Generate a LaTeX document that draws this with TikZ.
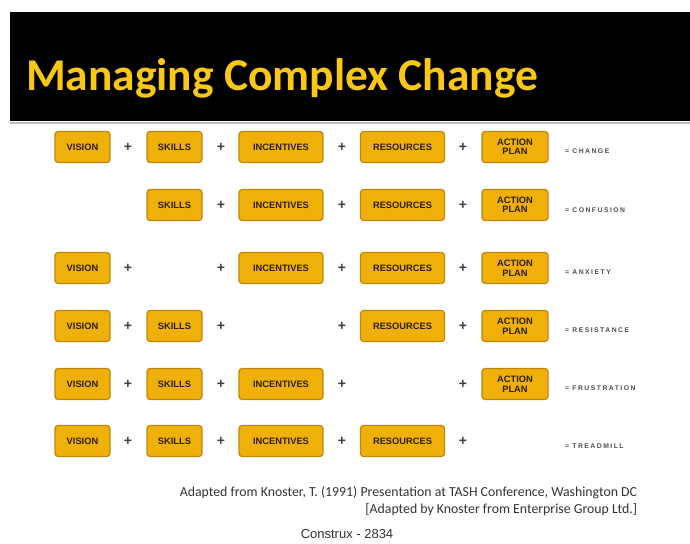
\documentclass[tikz,border=0pt]{standalone}
\usepackage{fontspec}
\setmainfont{Carlito}
\newfontfamily\boxfont{Liberation Sans}
\newfontfamily\resultfont[LetterSpace=22]{Liberation Sans}
\usepackage{tikz}

\definecolor{titleyellow}{RGB}{250,200,20}
\definecolor{boxfill}{RGB}{240,176,10}
\definecolor{boxline}{RGB}{190,135,10}
\definecolor{boxtext}{RGB}{45,30,5}

\begin{document}
\begin{tikzpicture}[x=1pt, y=-1pt,
  every node/.style={inner sep=0pt, outer sep=0pt},
  item/.style={draw=boxline, line width=1.2pt, fill=boxfill, rounded corners=3pt, minimum height=31pt, text=boxtext, font=\boxfont\bfseries\fontsize{9.3}{9.5}\selectfont, align=center},
  small/.style={item, minimum width=55pt},
  wide/.style={item, minimum width=84pt},
  plan/.style={item, minimum width=66pt},
  plus/.style={text=black!75, font=\boxfont\bfseries\fontsize{14}{14}\selectfont},
  result/.style={anchor=west, text=black!70, font=\resultfont\bfseries\fontsize{6.8}{7}\selectfont}]
\useasboundingbox (0,0) rectangle (690,543);

\fill[black] (10,12) rectangle (690,121);
\draw[black!25, line width=2pt] (10,123) -- (690,123);
\node[anchor=base west, text=titleyellow, font=\bfseries\fontsize{45.5}{46}\selectfont] (title) at (26,90) {Managing Complex Change};

\node[small] (v1) at (82.5,147) {VISION};
\node[plus] (p11) at (128,147) {+};
\node[small] (s1) at (174.5,147) {SKILLS};
\node[plus] (p12) at (221,147) {+};
\node[wide] (i1) at (281,147) {INCENTIVES};
\node[plus] (p13) at (342,147) {+};
\node[wide] (r1) at (402.5,147) {RESOURCES};
\node[plus] (p14) at (463,147) {+};
\node[plan] (a1) at (515,147) {ACTION\\PLAN};
\node[result] (e1) at (565,151) {= CHANGE};

\node[small] (s2) at (174.5,205) {SKILLS};
\node[plus] (p22) at (221,205) {+};
\node[wide] (i2) at (281,205) {INCENTIVES};
\node[plus] (p23) at (342,205) {+};
\node[wide] (r2) at (402.5,205) {RESOURCES};
\node[plus] (p24) at (463,205) {+};
\node[plan] (a2) at (515,205) {ACTION\\PLAN};
\node[result] (e2) at (565,210) {= CONFUSION};

\node[small] (v3) at (82.5,268) {VISION};
\node[plus] (p31) at (128,268) {+};
\node[plus] (p32) at (221,268) {+};
\node[wide] (i3) at (281,268) {INCENTIVES};
\node[plus] (p33) at (342,268) {+};
\node[wide] (r3) at (402.5,268) {RESOURCES};
\node[plus] (p34) at (463,268) {+};
\node[plan] (a3) at (515,268) {ACTION\\PLAN};
\node[result] (e3) at (565,272) {= ANXIETY};

\node[small] (v4) at (82.5,326) {VISION};
\node[plus] (p41) at (128,326) {+};
\node[small] (s4) at (174.5,326) {SKILLS};
\node[plus] (p42) at (221,326) {+};
\node[plus] (p43) at (342,326) {+};
\node[wide] (r4) at (402.5,326) {RESOURCES};
\node[plus] (p44) at (463,326) {+};
\node[plan] (a4) at (515,326) {ACTION\\PLAN};
\node[result] (e4) at (565,330) {= RESISTANCE};

\node[small] (v5) at (82.5,384) {VISION};
\node[plus] (p51) at (128,384) {+};
\node[small] (s5) at (174.5,384) {SKILLS};
\node[plus] (p52) at (221,384) {+};
\node[wide] (i5) at (281,384) {INCENTIVES};
\node[plus] (p53) at (342,384) {+};
\node[plus] (p54) at (463,384) {+};
\node[plan] (a5) at (515,384) {ACTION\\PLAN};
\node[result] (e5) at (565,388) {= FRUSTRATION};

\node[small] (v6) at (82.5,441) {VISION};
\node[plus] (p61) at (128,441) {+};
\node[small] (s6) at (174.5,441) {SKILLS};
\node[plus] (p62) at (221,441) {+};
\node[wide] (i6) at (281,441) {INCENTIVES};
\node[plus] (p63) at (342,441) {+};
\node[wide] (r6) at (402.5,441) {RESOURCES};
\node[plus] (p64) at (463,441) {+};
\node[result] (e6) at (565,446) {= TREADMILL};

\node[anchor=base east, text=black!80, font=\fontsize{13.8}{14}\selectfont] (src1) at (637,496) {Adapted from Knoster, T. (1991) Presentation at TASH Conference, Washington DC};
\node[anchor=base east, text=black!80, font=\fontsize{13.8}{14}\selectfont] (src2) at (637,513) {[Adapted by Knoster from Enterprise Group Ltd.]};
\node[anchor=base, text=black!80, font=\boxfont\fontsize{13}{13}\selectfont] (foot) at (347,538) {Construx - 2834};
\end{tikzpicture}
\end{document}
